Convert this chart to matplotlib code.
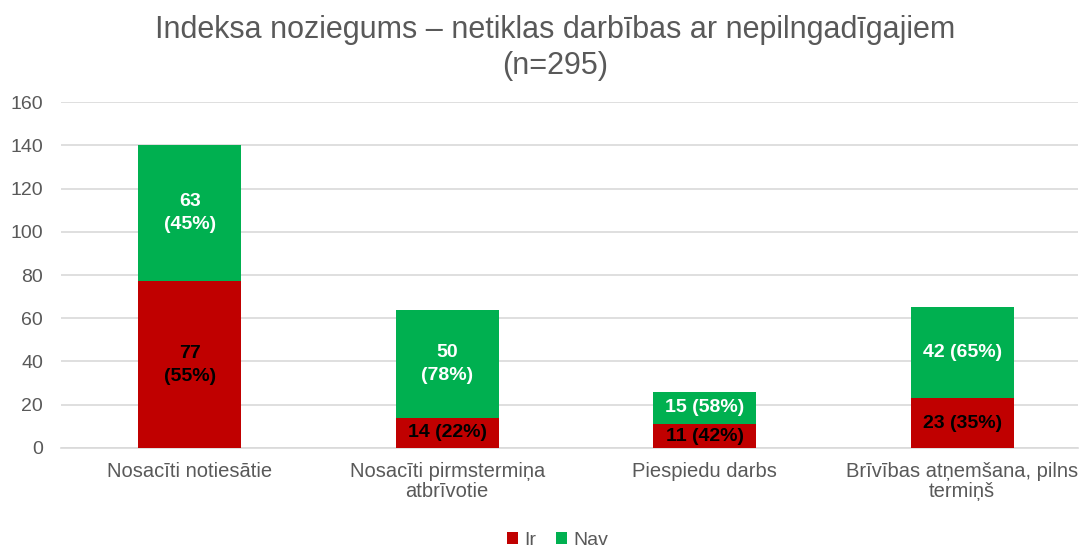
import matplotlib.pyplot as plt
import numpy as np

plt.rcParams['font.family'] = ['Liberation Sans', 'DejaVu Sans']

categories = ['Nosacīti notiesātie', 'Nosacīti pirmstermiņa\natbrīvotie',
              'Piespiedu darbs', 'Brīvības atņemšana, pilns\ntermiņš']
ir = [77, 14, 11, 23]
nav = [63, 50, 15, 42]
ir_labels = ['77\n(55%)', '14 (22%)', '11 (42%)', '23 (35%)']
nav_labels = ['63\n(45%)', '50\n(78%)', '15 (58%)', '42 (65%)']

red = '#C00000'
green = '#00B050'
txt = '#595959'

fig = plt.figure(figsize=(10.82, 5.47), dpi=100)
ax = fig.add_axes([0.0564, 0.181, 0.9399, 0.6325])

x = np.arange(len(categories))
w = 0.4
b1 = ax.bar(x, ir, w, color=red, label='Ir', zorder=3)
b2 = ax.bar(x, nav, w, bottom=ir, color=green, label='Nav', zorder=3)

for i in range(len(x)):
    ax.text(x[i], ir[i] / 2, ir_labels[i], ha='center', va='center',
            fontsize=14, fontweight='bold', color='black', zorder=4, linespacing=1.45)
    ax.text(x[i], ir[i] + nav[i] / 2, nav_labels[i], ha='center', va='center',
            fontsize=14, fontweight='bold', color='white', zorder=4, linespacing=1.45)

ax.set_ylim(0, 160)
ax.set_yticks(range(0, 161, 20))
ax.set_xlim(-0.5, 3.45)
ax.set_xticks(x)
ax.set_xticklabels(categories, fontsize=14.5, color=txt, linespacing=1.1)
ax.tick_params(axis='y', labelsize=14, labelcolor=txt, length=0, pad=13)
ax.tick_params(axis='x', length=0, pad=10)
ax.yaxis.grid(True, color='#D9D9D9', linewidth=1.2, zorder=0)
for s in ['top', 'right', 'left']:
    ax.spines[s].set_visible(False)
ax.spines['bottom'].set_color('#D9D9D9')
ax.spines['bottom'].set_linewidth(1.2)

fig.text(0.513, 0.972, 'Indeksa noziegums – netiklas darbības ar nepilngadīgajiem\n(n=295)',
         ha='center', va='top', fontsize=22, color=txt, linespacing=1.25)

fig.legend(handles=[b1, b2], labels=['Ir', 'Nav'], loc='lower center',
           bbox_to_anchor=(0.515, -0.035), ncol=2, frameon=False, fontsize=14,
           handlelength=0.6, handleheight=0.6, handletextpad=0.3, columnspacing=1.0,
           labelcolor=txt)

fig.savefig('out.png', dpi=100)
